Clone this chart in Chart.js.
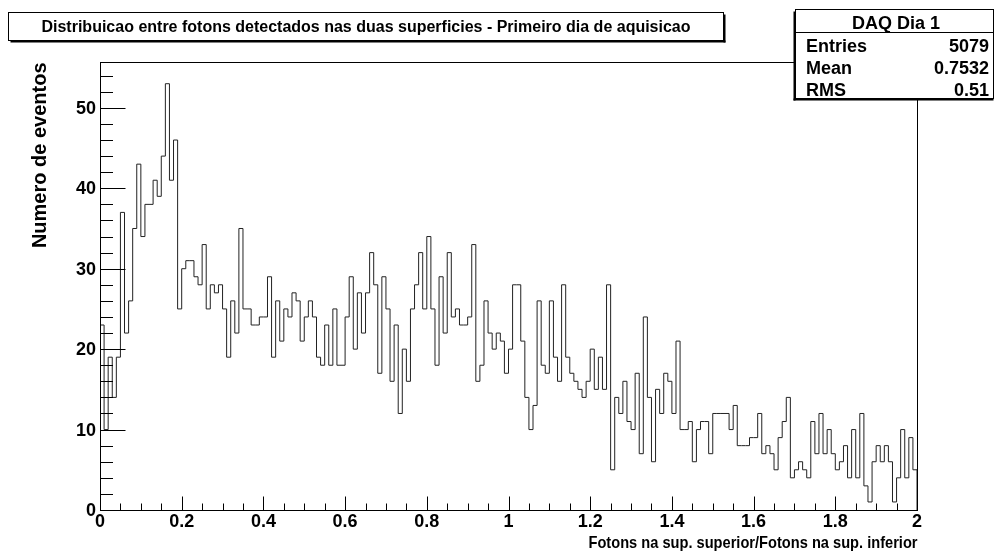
<!DOCTYPE html>
<html>
<head>
<meta charset="utf-8">
<script src="https://cdn.jsdelivr.net/npm/chart.js@4"></script>
<style>
html,body{margin:0;padding:0;background:#fff;}
#wrap{width:996px;height:556px;position:relative;}
</style>
</head>
<body>
<div id="wrap"><canvas id="c" width="996" height="556"></canvas></div>
<script>
// ---- data (200 bins on [0,2]) ----
const binCounts = [
  23,10,19,14,19,37,22,26,35,43,
  34,38,38,41,39,44,53,41,46,25,
  30,31,31,29,28,33,25,28,27,28,
  25,19,26,22,35,25,25,23,23,24,
  24,29,19,26,21,25,24,27,26,21,
  24,26,24,19,18,23,18,25,18,18,
  24,29,20,27,22,27,32,28,17,29,
  25,16,23,12,20,16,25,28,32,25,
  34,25,18,29,22,32,24,25,23,23,
  24,33,16,18,26,22,20,22,21,17,
  20,28,28,21,14,10,13,26,18,17,
  26,19,16,28,19,17,16,15,14,16,
  20,15,19,15,28,5,14,12,16,11,
  10,17,7,24,14,6,15,12,17,16,
  12,21,10,10,11,6,10,11,11,7,
  12,12,12,12,10,13,8,8,8,9,
  9,12,7,8,7,5,9,11,14,4,
  5,6,5,4,11,7,12,7,10,7,
  5,6,8,4,10,4,12,3,1,6,
  8,6,8,6,1,4,10,4,9,5
];
const xRange = [0, 2];
const yRange = [0, 55.7];
const xTickValues = [0, 0.2, 0.4, 0.6, 0.8, 1, 1.2, 1.4, 1.6, 1.8, 2];
const xTickLabels = ['0', '0.2', '0.4', '0.6', '0.8', '1', '1.2', '1.4', '1.6', '1.8', '2'];
const yTickValues = [0, 10, 20, 30, 40, 50];
const yTickLabels = ['0', '10', '20', '30', '40', '50'];
const titleText = 'Distribuicao entre fotons detectados nas duas superficies - Primeiro dia de aquisicao';
const xTitle = 'Fotons na sup. superior/Fotons na sup. inferior';
const yTitle = 'Numero de eventos';
const statsName = 'DAQ Dia 1';
const statsLabels = ['Entries', 'Mean', 'RMS'];
const statsValues = ['5079', '0.7532', '0.51'];

// ---- build step points (bin low edges) ----
const nBins = binCounts.length;
const binW = (xRange[1] - xRange[0]) / nBins;
const pts = [{x: xRange[0], y: 0}];
binCounts.forEach((v, i) => pts.push({x: xRange[0] + i * binW, y: v}));
pts.push({x: xRange[1], y: 0});

const F = '"Liberation Sans", Arial, Helvetica, sans-serif';

const rootAxes = {
  id: 'rootAxes',
  afterDatasetsDraw(chart) {
    const ctx = chart.ctx;
    const xs = chart.scales.x, ys = chart.scales.y;
    const a = chart.chartArea;
    const L = Math.round(a.left) + 0.5, R = Math.round(a.right) + 0.5;
    const T = Math.round(a.top) + 0.5, B = Math.round(a.bottom) + 0.5;
    ctx.save();
    ctx.strokeStyle = '#000';
    ctx.lineWidth = 1;
    // frame
    ctx.strokeRect(L, T, R - L, B - T);
    // x ticks (major every 0.2, minor every 0.05)
    ctx.beginPath();
    for (let k = 0; k <= 40; k++) {
      const v = k * 0.05;
      const px = Math.round(xs.getPixelForValue(v)) + 0.5;
      const len = (k % 4 === 0) ? 14 : 7;
      ctx.moveTo(px, B);
      ctx.lineTo(px, B - len);
    }
    // y ticks (major every 10, minor every 2)
    for (let v = 0; v <= yRange[1]; v += 2) {
      const py = Math.round(ys.getPixelForValue(v)) + 0.5;
      const len = (v % 10 === 0) ? 25 : 12.5;
      ctx.moveTo(L, py);
      ctx.lineTo(L + len, py);
    }
    ctx.stroke();

    ctx.fillStyle = '#000';
    // x tick labels
    ctx.font = 'bold 18px ' + F;
    ctx.textAlign = 'center';
    ctx.textBaseline = 'alphabetic';
    xTickValues.forEach((v, i) => {
      ctx.fillText(xTickLabels[i], xs.getPixelForValue(v), 527);
    });
    // y tick labels
    ctx.textAlign = 'right';
    ctx.textBaseline = 'middle';
    yTickValues.forEach((v, i) => {
      ctx.fillText(yTickLabels[i], 96, ys.getPixelForValue(v) + 1);
    });
    // x title (right-aligned at axis end, slightly condensed like the reference)
    ctx.save();
    ctx.font = 'bold 17px ' + F;
    ctx.textAlign = 'right';
    ctx.textBaseline = 'alphabetic';
    const w = ctx.measureText(xTitle).width;
    const sx = Math.min(1, 329 / w);
    ctx.translate(R, 548);
    ctx.scale(sx, 1);
    ctx.fillText(xTitle, 0, 0);
    ctx.restore();
    // y title (rotated, right-aligned at top of axis)
    ctx.save();
    ctx.translate(46, T);
    ctx.rotate(-Math.PI / 2);
    ctx.font = 'bold 20px ' + F;
    ctx.textAlign = 'right';
    ctx.textBaseline = 'alphabetic';
    ctx.fillText(yTitle, 0, 0);
    ctx.restore();

    // title box
    const tb = {x: 8.5, y: 12.5, w: 715, h: 28};
    ctx.fillStyle = '#000';
    ctx.fillRect(tb.x + 2, tb.y + tb.h, tb.w, 2);
    ctx.fillRect(tb.x + tb.w, tb.y + 2, 2, tb.h);
    ctx.fillStyle = '#fff';
    ctx.fillRect(tb.x, tb.y, tb.w, tb.h);
    ctx.strokeRect(tb.x, tb.y, tb.w, tb.h);
    ctx.fillStyle = '#000';
    ctx.font = 'bold 16px ' + F;
    ctx.textAlign = 'center';
    ctx.textBaseline = 'middle';
    ctx.fillText(titleText, tb.x + tb.w / 2, tb.y + tb.h / 2 + 1);

    // stats box
    const sb = {x: 795.5, y: 9.5, w: 198, h: 89};
    ctx.fillStyle = '#000';
    ctx.fillRect(sb.x - 2, sb.y + sb.h, sb.w + 2, 2);
    ctx.fillRect(sb.x - 2, sb.y + 2, 2, sb.h);
    ctx.fillStyle = '#fff';
    ctx.fillRect(sb.x, sb.y, sb.w, sb.h);
    ctx.strokeRect(sb.x, sb.y, sb.w, sb.h);
    ctx.beginPath();
    ctx.moveTo(sb.x, 32.5);
    ctx.lineTo(sb.x + sb.w, 32.5);
    ctx.stroke();
    ctx.fillStyle = '#000';
    ctx.font = 'bold 18px ' + F;
    ctx.textBaseline = 'alphabetic';
    ctx.textAlign = 'center';
    ctx.fillText(statsName, 896, 29);
    const rowBase = [52, 74, 96];
    statsLabels.forEach((lab, i) => {
      ctx.textAlign = 'left';
      ctx.fillText(lab, 806, rowBase[i]);
      ctx.textAlign = 'right';
      ctx.fillText(statsValues[i], 989, rowBase[i]);
    });
    ctx.restore();
  }
};

new Chart(document.getElementById('c'), {
  type: 'line',
  data: {
    datasets: [{
      data: pts,
      stepped: true,
      borderColor: '#222',
      borderWidth: 1,
      pointRadius: 0,
      fill: false,
      tension: 0
    }]
  },
  options: {
    responsive: false,
    animation: false,
    parsing: true,
    layout: {padding: {left: 100, right: 79, top: 62, bottom: 46}},
    plugins: {legend: {display: false}, tooltip: {enabled: false}, title: {display: false}},
    scales: {
      x: {type: 'linear', min: xRange[0], max: xRange[1], display: false},
      y: {type: 'linear', min: yRange[0], max: yRange[1], display: false}
    }
  },
  plugins: [rootAxes]
});
</script>
</body>
</html>
